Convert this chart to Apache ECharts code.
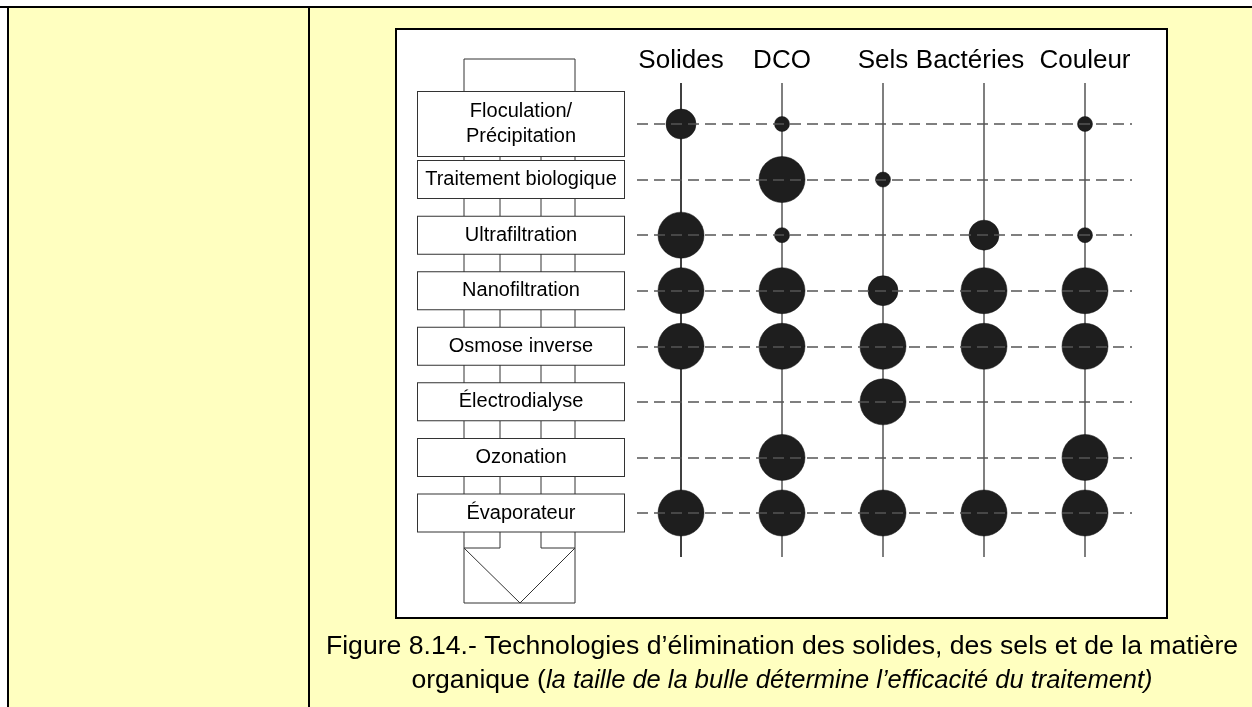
<!DOCTYPE html>
<html lang="fr">
<head>
<meta charset="UTF-8">
<title>Figure 8.14</title>
<script src="https://cdn.jsdelivr.net/npm/echarts@6/dist/echarts.min.js"></script>
<style>
html,body{margin:0;padding:0;background:#fff;}
#chart{width:1252px;height:707px;}
</style>
</head>
<body>
<div id="chart"></div>
<script>
// procédés (lignes) et paramètres (colonnes)
var procedes = ['Floculation/\nPrécipitation', 'Traitement biologique', 'Ultrafiltration', 'Nanofiltration',
	'Osmose inverse', 'Électrodialyse', 'Ozonation', 'Évaporateur'];
var parametres = ['Solides', 'DCO', 'Sels', 'Bactéries', 'Couleur'];
// efficacité par paramètre : 0 = pas de bulle, 1 = petite, 2 = moyenne, 3 = grande
var solides   = [2, 0, 3, 3, 3, 0, 0, 3];
var dco       = [1, 3, 1, 3, 3, 0, 3, 3];
var sels      = [0, 1, 0, 2, 3, 3, 0, 3];
var bacteries = [0, 0, 2, 3, 3, 0, 0, 3];
var couleur   = [1, 0, 1, 3, 3, 0, 3, 3];

var FONT = 'Liberation Sans';
var tailles = [0, 15, 30, 46];

// construction des points [colonne, ligne, efficacité]
var colonnes = [solides, dco, sels, bacteries, couleur];
var points = [];
for (var c = 0; c < colonnes.length; c++) {
	for (var r = 0; r < colonnes[c].length; r++) {
		if (colonnes[c][r] > 0) points.push([c, r, colonnes[c][r]]);
	}
}

// style des boîtes du schéma
var boite = {
	align: 'center', width: 198, padding: [8, 4], lineHeight: 21,
	fontSize: 20, fontFamily: FONT, color: '#000', backgroundColor: '#fff',
	borderColor: '#333', borderWidth: 1
};
var procedesData = procedes.map(function (p, i) {
	if (i == 0) return {value: p, textStyle: Object.assign({}, boite, {padding: [7, 4], lineHeight: 25})};
	return p;
});
var entetes = parametres.map(function (p) {
	if (p == 'Bactéries') return {value: p, textStyle: {padding: [0, 28, 0, 0]}};
	return p;
});

var myChart = echarts.init(document.getElementById('chart'));
var option = {
	animation: false,
	backgroundColor: '#fff',
	aria: {enabled: true, decal: {show: true}},
	grid: [
		{left: 681, width: 404, top: 124, height: 389},
		{left: 681, width: 404, top: 83, height: 474},
		{left: 637, width: 495, top: 124, height: 389}
	],
	xAxis: [
		{gridIndex: 0, type: 'category', data: parametres, boundaryGap: false, show: false},
		{
			gridIndex: 1, type: 'category', data: entetes, boundaryGap: false, position: 'top',
			axisLine: {show: false}, axisTick: {show: false},
			axisLabel: {interval: 0, margin: 9, fontSize: 26, fontFamily: FONT, color: '#000'},
			splitLine: {show: true, interval: 0, lineStyle: {color: ['#000', '#555', '#555', '#555', '#555'], width: 1.5}}
		},
		{gridIndex: 2, type: 'value', show: false}
	],
	yAxis: [
		{gridIndex: 0, type: 'category', data: procedes, inverse: true, boundaryGap: false, show: false},
		{gridIndex: 1, type: 'value', min: 0, max: 1, show: false},
		{
			gridIndex: 2, type: 'category', data: procedesData, inverse: true, boundaryGap: false, z: 5,
			axisLine: {show: false}, axisTick: {show: false},
			axisLabel: Object.assign({interval: 0, margin: 116}, boite),
			splitLine: {show: true, interval: 0, lineStyle: {color: '#555', width: 1.5, type: [11, 6]}}
		}
	],
	series: [{
		type: 'scatter',
		xAxisIndex: 0,
		yAxisIndex: 0,
		data: points,
		symbolSize: function (v) { return tailles[v[2]]; },
		itemStyle: {
			color: '#1e1e1e', borderColor: '#111', borderWidth: 0.5, opacity: 1,
			decal: {symbol: 'rect', symbolSize: 1, color: 'rgba(150,150,150,0.45)',
				dashArrayX: [[10, 5], [4, 6, 8, 3]], dashArrayY: [1, 3], rotation: 0.03}
		}
	}],
	graphic: [
		// fond jaune et cadres
		{type: 'rect', z: -10, shape: {x: 8, y: 7, width: 1244, height: 700}, style: {fill: '#ffffc0'}},
		{type: 'line', z: -9, shape: {x1: 0, y1: 7, x2: 1252, y2: 7}, style: {stroke: '#000', lineWidth: 2}},
		{type: 'line', z: -9, shape: {x1: 8, y1: 7, x2: 8, y2: 707}, style: {stroke: '#000', lineWidth: 2}},
		{type: 'line', z: -9, shape: {x1: 309, y1: 7, x2: 309, y2: 707}, style: {stroke: '#000', lineWidth: 2}},
		{type: 'rect', z: -8, shape: {x: 396, y: 29, width: 771, height: 589}, style: {fill: '#fff', stroke: '#000', lineWidth: 2}},
		// schéma du flux
		{type: 'rect', z: -1, shape: {x: 464, y: 59, width: 111, height: 38}, style: {fill: 'none', stroke: '#333', lineWidth: 1}},
		{type: 'line', z: -1, shape: {x1: 464, y1: 97, x2: 464, y2: 603}, style: {stroke: '#333', lineWidth: 1}},
		{type: 'line', z: -1, shape: {x1: 575, y1: 97, x2: 575, y2: 603}, style: {stroke: '#333', lineWidth: 1}},
		{type: 'line', z: -1, shape: {x1: 500, y1: 97, x2: 500, y2: 548}, style: {stroke: '#333', lineWidth: 1}},
		{type: 'line', z: -1, shape: {x1: 541, y1: 97, x2: 541, y2: 548}, style: {stroke: '#333', lineWidth: 1}},
		{type: 'polyline', z: -1, shape: {points: [[464, 548], [500, 548]]}, style: {stroke: '#333', lineWidth: 1}},
		{type: 'polyline', z: -1, shape: {points: [[541, 548], [575, 548]]}, style: {stroke: '#333', lineWidth: 1}},
		{type: 'polyline', z: -1, shape: {points: [[464, 548], [520, 603], [575, 548]]}, style: {stroke: '#333', lineWidth: 1, fill: 'none'}},
		{type: 'line', z: -1, shape: {x1: 464, y1: 603, x2: 575, y2: 603}, style: {stroke: '#333', lineWidth: 1}},
		// légende de la figure
		{
			type: 'text', z: 1,
			style: {
				x: 782, y: 664, align: 'center', verticalAlign: 'middle',
				text: 'Figure 8.14.- Technologies d\u2019élimination des solides, des sels et de la matière\norganique ({i|la taille de la bulle détermine l\u2019efficacité du traitement)}',
				fontSize: 26.6, fontFamily: FONT, fill: '#000', lineHeight: 34,
				rich: {i: {fontStyle: 'italic', fontSize: 25.5, fontFamily: FONT, lineHeight: 34}}
			}
		}
	]
};
myChart.setOption(option);
</script>
</body>
</html>
